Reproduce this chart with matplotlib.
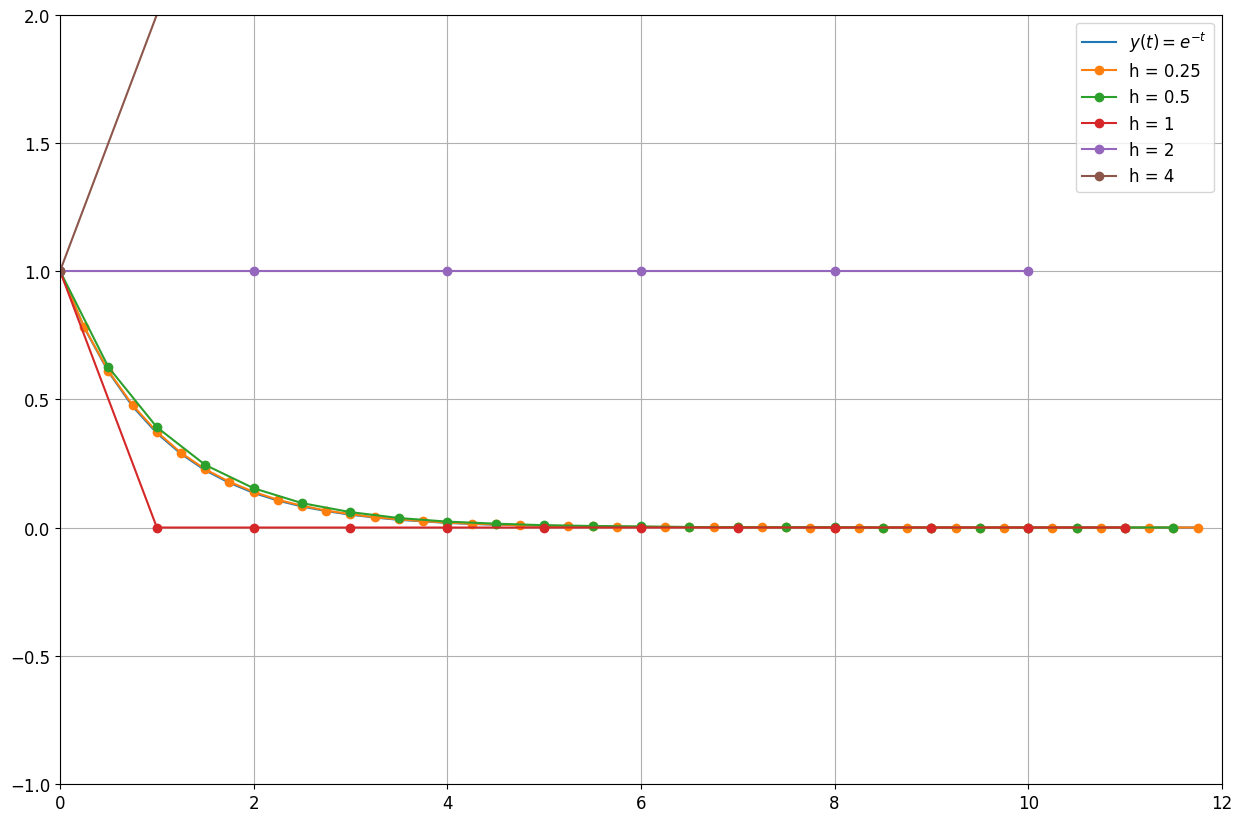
import numpy as np
import matplotlib
matplotlib.use("Agg")
import matplotlib.pyplot as plt

# exact solution, sampled every 0.25
t_exact = np.arange(0, 11.8, 0.25)
y_exact = [1.0, 0.779, 0.607, 0.472, 0.368, 0.287, 0.223, 0.174, 0.135, 0.105,
           0.082, 0.064, 0.050, 0.039, 0.030, 0.024, 0.018, 0.014, 0.011, 0.009,
           0.007, 0.005, 0.004, 0.003, 0.002, 0.002, 0.002, 0.001, 0.001, 0.001,
           0.001, 0.0, 0.0, 0.0, 0.0, 0.0, 0.0, 0.0, 0.0, 0.0,
           0.0, 0.0, 0.0, 0.0, 0.0, 0.0, 0.0, 0.0]

# numerical solutions for each step size
h_values = [0.25, 0.5, 1, 2, 4]
y_h025 = [1.0, 0.781, 0.610, 0.477, 0.373, 0.291, 0.227, 0.178, 0.139, 0.108,
          0.085, 0.066, 0.052, 0.040, 0.032, 0.025, 0.019, 0.015, 0.012, 0.009,
          0.007, 0.006, 0.004, 0.003, 0.003, 0.002, 0.002, 0.001, 0.001, 0.001,
          0.001, 0.0, 0.0, 0.0, 0.0, 0.0, 0.0, 0.0, 0.0, 0.0,
          0.0, 0.0, 0.0, 0.0, 0.0, 0.0, 0.0, 0.0]
y_h05 = [1.0, 0.625, 0.391, 0.244, 0.153, 0.095, 0.060, 0.037, 0.023, 0.015,
         0.009, 0.006, 0.004, 0.002, 0.001, 0.001, 0.001, 0.0, 0.0, 0.0,
         0.0, 0.0, 0.0, 0.0]
y_h1 = [1.0, 0.0, 0.0, 0.0, 0.0, 0.0, 0.0, 0.0, 0.0, 0.0, 0.0, 0.0]
y_h2 = [1.0, 1.0, 1.0, 1.0, 1.0, 1.0]
y_h4 = [1.0, 5.0, 25.0]
series = [y_h025, y_h05, y_h1, y_h2, y_h4]

plt.rcParams['font.size'] = 12
fig = plt.figure(figsize=(12.43, 8.2), dpi=100)
ax = fig.add_subplot(111)
fig.subplots_adjust(left=0.0483, right=0.983, top=0.981, bottom=0.0427)

ax.plot(t_exact, y_exact, label=r'$y(t) = e^{-t}$')
for h, ys in zip(h_values, series):
    t = np.arange(len(ys)) * h
    ax.plot(t, ys, 'o-', label='h = %g' % h)

ax.set_xlim(0, 12)
ax.set_ylim(-1, 2)
ax.set_yticks([-1.0, -0.5, 0.0, 0.5, 1.0, 1.5, 2.0])
ax.grid(True)
ax.legend(loc='upper right')

fig.savefig('out.png', dpi=100)
